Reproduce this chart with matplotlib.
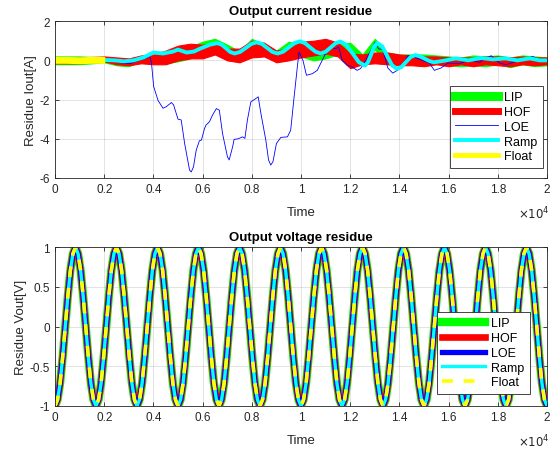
import numpy as np
import matplotlib
matplotlib.use("Agg")
import matplotlib.pyplot as plt
from matplotlib.lines import Line2D
from matplotlib.ticker import FuncFormatter

plt.rcParams["font.family"] = ["Liberation Sans", "DejaVu Sans"]
plt.rcParams["axes.unicode_minus"] = False

labels = ["LIP", "HOF", "LOE", "Ramp", "Float"]
colors = ["#00ff00", "#ff0000", "#0000ff", "#00ffff", "#ffff00"]

# --- output current residue ---
band_time = [0, 1000, 2000, 2500, 3000, 3500, 4000, 4500, 5000, 5500, 6000,
             6500, 7000, 7500, 8000, 8500, 9000, 9500, 10000, 10500, 11000,
             11500, 12000, 12500, 13000, 13500, 14000, 14500, 15000, 15500,
             16000, 16500, 17000, 17500, 18000, 18500, 19000, 19500, 20000]
hof_low = [-0.15, -0.15, -0.05, -0.2, -0.25, -0.15, -0.2, -0.2, 0.0, 0.1, 0.1,
           0.3, 0.0, -0.1, 0.15, 0.2, -0.1, 0.0, 0.15, 0.25, 0.35,
           0.2, -0.4, -0.2, -0.15, -0.2, -0.25, -0.25, -0.3, -0.2,
           -0.3, -0.2, -0.3, -0.2, -0.25, -0.3, -0.2, -0.25, -0.2]
hof_high = [0.15, 0.15, 0.2, 0.15, 0.1, 0.25, 0.3, 0.5, 0.75, 0.85, 0.8,
            0.9, 0.6, 0.6, 1.0, 0.9, 0.5, 0.6, 0.95, 1.0, 1.1,
            0.9, 0.35, 0.3, 0.4, 0.4, 0.3, 0.25, 0.2, 0.2,
            0.15, 0.15, 0.15, 0.2, 0.2, 0.15, 0.2, 0.15, 0.15]
lip_low = [-0.2, -0.2, -0.1, -0.25, -0.3, -0.05, -0.15, -0.15, -0.05, 0.1, 0.3,
           0.5, 0.2, 0.0, 0.4, 0.3, 0.1, 0.3, 0.2, 0.0, 0.1,
           0.3, 0.4, -0.2, 0.55, -0.1, 0.0, 0.0, 0.0, -0.05,
           -0.25, -0.3, -0.25, -0.3, -0.2, -0.35, -0.2, -0.3, -0.25]
lip_high = [0.2, 0.2, 0.15, 0.05, 0.05, 0.2, 0.15, 0.35, 0.5, 0.7, 0.95,
            1.1, 0.8, 0.45, 1.1, 0.8, 0.5, 0.95, 0.8, 0.5, 0.6,
            0.8, 0.9, 0.3, 1.1, 0.4, 0.3, 0.3, 0.3, 0.25,
            0.2, 0.15, 0.25, 0.2, 0.25, 0.15, 0.25, 0.2, 0.15]

loe_time = [0, 1000, 2000, 2400, 2800, 3100, 3400, 3700, 3850, 3920,
            4010, 4190, 4390, 4530, 4730, 4820, 5000, 5130, 5270, 5470,
            5540, 5630, 5740, 5870, 5950, 6080, 6140, 6280, 6400, 6560,
            6680, 6810, 7010, 7080, 7220, 7280, 7450, 7620, 7720, 7820,
            7960, 8160, 8260, 8370, 8570, 8680, 8770, 8860, 9000, 9180,
            9450, 9580, 9720, 9850, 9920, 9990, 10080, 10220, 10460, 10660,
            10860, 11000, 11200, 11400, 11530, 11670, 11880, 12080, 12280, 12420,
            12550, 12780, 13010, 13150, 13320, 13530, 13730, 14070, 14340, 14680,
            15220, 15420, 15690, 15970, 16440, 16850, 17250, 17730, 18070, 18340,
            18740, 19420, 19760, 20000]
loe_vals = [0.0, 0.0, 0.02, -0.05, -0.15, -0.15, 0.0, 0.1, 0.2, -0.1,
            -1.33, -2.05, -2.44, -2.36, -2.15, -2.27, -3.0, -3.04, -4.24, -5.6,
            -5.69, -5.43, -4.58, -4.1, -4.07, -3.47, -3.3, -3.13, -2.8, -2.46,
            -2.54, -3.73, -4.92, -5.08, -4.41, -4.03, -4.0, -3.9, -3.98, -3.05,
            -2.12, -1.95, -1.86, -2.71, -4.07, -5.08, -5.34, -5.17, -4.24, -3.93,
            -3.9, -3.56, -1.86, -0.34, 0.42, 0.25, 0.0, -0.76, -0.68, -0.51,
            0.0, 0.34, 0.68, 0.59, 0.68, 0.0, -0.25, -0.34, -0.51, -0.42,
            -0.17, 0.37, 0.93, 0.59, 0.55, -0.39, -0.65, -0.39, 0.24, 0.12,
            -0.14, -0.51, -0.39, -0.14, -0.17, 0.03, -0.1, 0.24, -0.14, -0.22,
            -0.05, 0.2, -0.05, 0.0]

ramp_time = [2000, 2400, 2800, 3200, 3600, 4000, 4400, 4800, 5000, 5350,
             5650, 5900, 6300, 6600, 6780, 6950, 7120, 7300, 7520, 7750,
             7980, 8200, 8410, 8620, 8840, 9050, 9270, 9500, 9730, 9950,
             10160, 10370, 10590, 10800, 11000, 11200, 11400, 11600, 11850, 12100,
             12350, 12600, 12720, 12850, 12970, 13100, 13300, 13500, 13700, 13900,
             14090, 14270, 14460, 14650, 14840, 15020, 15210, 15400, 15800, 16300,
             16800, 17300, 17800, 18300, 18800, 19300, 19700, 20000]
ramp_vals = [0.02, 0.0, -0.05, 0.0, 0.15, 0.4, 0.35, 0.45, 0.55, 0.4,
             0.45, 0.6, 0.8, 0.88, 0.8, 0.62, 0.43, 0.35, 0.43, 0.63,
             0.84, 0.92, 0.84, 0.64, 0.43, 0.35, 0.44, 0.66, 0.88, 0.97,
             0.88, 0.66, 0.44, 0.35, 0.44, 0.65, 0.87, 0.96, 0.78, 0.35,
             -0.09, -0.27, -0.1, 0.3, 0.7, 0.88, 0.72, 0.23, -0.25, -0.43,
             -0.33, -0.08, 0.17, 0.27, 0.2, 0.09, -0.03, -0.1, -0.02, 0.1,
             0.0, 0.12, 0.05, 0.1, 0.0, 0.1, 0.0, 0.0]

float_time = [0, 500, 1000, 1500, 1900]
float_vals = [0.0, 0.0, -0.02, 0.0, 0.0]

# --- output voltage residue: all five controllers give the same wave ---
vout_vals = [
    -1.0, -0.92, -0.71, -0.38, 0.0, 0.38, 0.71, 0.92, 1.0, 0.92, 0.71, 0.38, 0.0, -0.38, -0.71, -0.92,
    -1.0, -0.92, -0.71, -0.38, 0.0, 0.38, 0.71, 0.92, 1.0, 0.92, 0.71, 0.38, 0.0, -0.38, -0.71, -0.92,
    -1.0, -0.92, -0.71, -0.38, 0.0, 0.38, 0.71, 0.92, 1.0, 0.92, 0.71, 0.38, 0.0, -0.38, -0.71, -0.92,
    -1.0, -0.92, -0.71, -0.38, 0.0, 0.38, 0.71, 0.92, 1.0, 0.92, 0.71, 0.38, 0.0, -0.38, -0.71, -0.92,
    -1.0, -0.92, -0.71, -0.38, 0.0, 0.38, 0.71, 0.92, 1.0, 0.92, 0.71, 0.38, 0.0, -0.38, -0.71, -0.92,
    -1.0, -0.92, -0.71, -0.38, 0.0, 0.38, 0.71, 0.92, 1.0, 0.92, 0.71, 0.38, 0.0, -0.38, -0.71, -0.92,
    -1.0, -0.92, -0.71, -0.38, 0.0, 0.38, 0.71, 0.92, 1.0, 0.92, 0.71, 0.38, 0.0, -0.38, -0.71, -0.92,
    -1.0, -0.92, -0.71, -0.38, 0.0, 0.38, 0.71, 0.92, 1.0, 0.92, 0.71, 0.38, 0.0, -0.38, -0.71, -0.92,
    -1.0, -0.92, -0.71, -0.38, 0.0, 0.38, 0.71, 0.92, 1.0, 0.92, 0.71, 0.38, 0.0, -0.38, -0.71, -0.92,
    -1.0, -0.92, -0.71, -0.38, 0.0, 0.38, 0.71, 0.92, 1.0, 0.92, 0.71, 0.38, 0.0, -0.38, -0.71, -0.92,
    -1.0, -0.92, -0.71, -0.38, 0.0, 0.38, 0.71, 0.92, 1.0, 0.92, 0.71, 0.38, 0.0, -0.38, -0.71, -0.92,
    -1.0, -0.92, -0.71, -0.38, 0.0, 0.38, 0.71, 0.92, 1.0, 0.92, 0.71, 0.38, 0.0, -0.38, -0.71, -0.92,
    -1.0,
]
vout_time = np.linspace(0, 20000, len(vout_vals))

DARK = "#262626"


def style_axes(ax, yticks, ylim, ylabel, title):
    ax.set_xlim(0, 20000)
    ax.set_ylim(*ylim)
    ax.set_xticks(np.arange(0, 20001, 2000))
    ax.set_yticks(yticks)
    ax.xaxis.set_major_formatter(FuncFormatter(lambda v, p: f"{v / 1e4:g}"))
    ax.yaxis.set_major_formatter(FuncFormatter(lambda v, p: f"{v:g}"))
    # exponent label sits under the right end, level with the axis label
    ax.annotate(r"$\times10^{4}$", xy=(1, 0), xycoords="axes fraction",
                xytext=(3, -35), textcoords="offset pixels",
                ha="right", va="center", fontsize=8.5, color=DARK)
    ax.grid(True, color=DARK, alpha=0.15, linewidth=0.6)
    ax.set_axisbelow(True)
    ax.tick_params(direction="in", top=True, right=True, labelsize=8.5,
                   colors=DARK, length=3, width=0.6)
    for sp in ax.spines.values():
        sp.set_color(DARK)
        sp.set_linewidth(0.6)
    ax.set_xlabel("Time", fontsize=9.5, color=DARK, labelpad=8)
    ax.set_ylabel(ylabel, fontsize=9.5, color=DARK, labelpad=2)
    ax.set_title(title, fontsize=9.5, fontweight="bold", pad=5)


fig = plt.figure(figsize=(5.51, 4.52), dpi=100)
ax1 = fig.add_axes([0.0998, 0.604, 0.893, 0.347])
ax2 = fig.add_axes([0.0998, 0.0996, 0.893, 0.351])

# top panel
ax1.fill_between(band_time, lip_low, lip_high, color=colors[0], linewidth=0.8,
                 edgecolor=colors[0])
ax1.fill_between(band_time, hof_low, hof_high, color=colors[1], linewidth=0.8,
                 edgecolor=colors[1])
ax1.plot(loe_time, loe_vals, color=colors[2], linewidth=0.6)
ax1.plot(ramp_time, ramp_vals, color=colors[3], linewidth=2.8)
ax1.plot(float_time, float_vals, color=colors[4], linewidth=5)
style_axes(ax1, [-6, -4, -2, 0, 2], (-6, 2), "Residue Iout[A]",
           "Output current residue")

leg_kw = dict(loc="lower right", borderaxespad=0, fontsize=9,
              handlelength=3.4, labelspacing=0.22, handletextpad=0.5,
              borderpad=0.45, fancybox=False, framealpha=1, edgecolor=DARK)

top_widths = [6.5, 5, 0.6, 2.8, 3.5]
handles1 = [Line2D([], [], color=c, linewidth=w) for c, w in zip(colors, top_widths)]
leg1 = ax1.legend(handles1, labels, bbox_to_anchor=(0.992, 0.064), **leg_kw)
leg1.get_frame().set_linewidth(0.6)

# bottom panel
bottom_widths = [6, 4.8, 3.8, 2.4, 2.6]
for i, (c, w) in enumerate(zip(colors, bottom_widths)):
    ls = (0, (3, 3)) if labels[i] == "Float" else "-"
    ax2.plot(vout_time, vout_vals, color=c, linewidth=w, linestyle=ls,
             label=labels[i])
style_axes(ax2, [-1, -0.5, 0, 0.5, 1], (-1, 1), "Residue Vout[V]",
           "Output voltage residue")
leg2 = ax2.legend(bbox_to_anchor=(0.965, 0.075), **leg_kw)
leg2.get_frame().set_linewidth(0.6)

fig.savefig("out.png", dpi=100, facecolor="white")
